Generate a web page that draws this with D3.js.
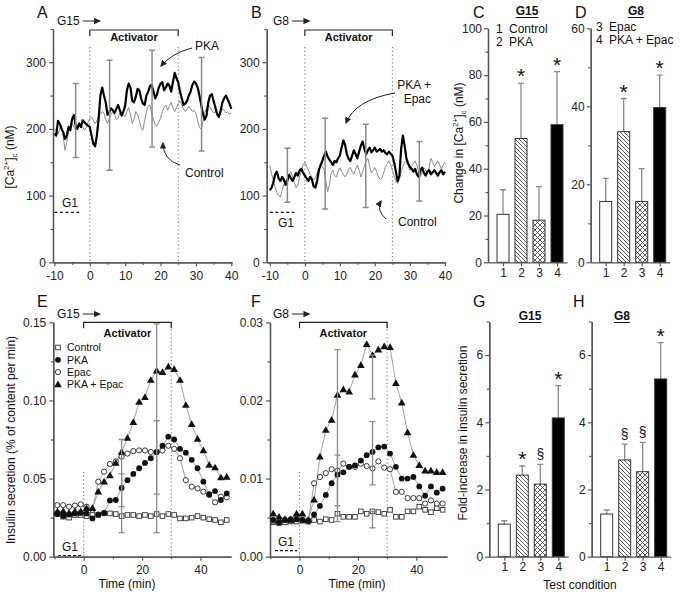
<!DOCTYPE html>
<html><head><meta charset="utf-8">
<script src="https://cdn.jsdelivr.net/npm/d3@7/dist/d3.min.js"></script>
<style>body{margin:0;background:#fff} svg{display:block}</style>
</head><body><svg id="c" width="693" height="595"></svg>
<script>
// ---------------- DATA ----------------
// [Ca2+]c traces, sampled every 0.5 min from -10 to 40 min
const traceStart = -10, traceStep = 0.5;
const caA_pka = [193,190,212,208,200,195,185,190,203,198,215,221,205,200,208,203,213,210,207,205,
 203,190,178,174,190,215,250,262,250,240,221,225,231,228,224,230,236,228,220,226,
 235,258,268,262,242,240,248,260,258,246,238,236,250,256,264,266,256,246,252,262,
 268,270,258,262,268,265,256,270,284,276,270,256,246,236,238,242,250,256,266,271,
 268,262,250,236,222,214,220,240,250,252,242,232,222,218,228,240,246,250,244,238,230];
const caA_ctrl = [200,198,192,200,206,188,168,180,196,200,207,203,198,205,210,206,203,198,202,210,
 216,218,213,208,212,220,222,226,224,214,208,215,222,226,222,214,216,224,226,220,
 218,226,232,222,208,214,226,222,212,202,198,212,226,234,236,224,214,206,204,210,
 216,226,232,236,228,234,240,232,226,232,238,242,236,230,226,230,234,230,226,228,
 224,212,202,200,210,224,232,236,232,228,224,226,222,218,224,230,228,224,226,222,224];
const caB_both = [108,112,120,132,136,126,122,128,124,116,122,131,126,122,128,134,130,138,140,134,
 130,126,122,128,124,114,112,122,138,146,152,160,166,158,154,150,146,152,150,156,
 160,172,183,176,162,155,152,160,168,162,156,166,175,181,170,162,168,172,165,168,
 172,166,168,170,166,168,164,162,166,163,160,150,136,122,130,170,190,175,156,148,
 143,140,136,140,132,128,138,142,134,130,136,138,132,135,138,134,130,135,138,132,136];
const caB_ctrl = [145,132,124,112,105,100,98,108,116,122,126,132,136,128,120,112,116,128,138,146,
 150,144,138,132,128,124,126,134,140,146,144,138,122,106,116,134,138,130,128,136,
 142,136,132,128,132,140,142,136,132,140,146,138,128,136,144,152,156,144,134,138,
 142,136,128,124,126,134,142,148,152,146,138,130,122,118,124,136,144,150,152,146,
 138,144,148,152,146,134,128,136,142,138,134,142,156,150,144,148,152,146,140,146,150];
// error bars on traces (time, low, high)
const errA_t = [-4, 5.6, 17.6, 31.6], errA_lo = [157, 138, 173, 167], errA_hi = [268, 303, 318, 307];
const errB_t = [-5, 5.8, 17.4, 32.7], errB_lo = [90, 80, 82, 92], errB_hi = [171, 216, 207, 181];

// bar charts (conditions 1-4)
const conditions = ["1", "2", "3", "4"];
const barC = [20.5, 52.9, 18, 58.8], barC_err = [31, 76.5, 32.3, 81.5], sigC = ["", "*", "", "*"];
const barD = [15.6, 33.5, 15.6, 39.7], barD_err = [21.5, 42, 24, 48], sigD = ["", "*", "", "*"];
const barG = [0.97, 2.43, 2.16, 4.13], barG_err = [1.07, 2.7, 2.75, 5.09], sigG = ["", "*", "§", "*"];
const barH = [1.27, 2.88, 2.53, 5.29], barH_err = [1.39, 3.35, 3.4, 6.37], sigH = ["", "§", "§", "*"];

// insulin secretion time courses (min)
const insTime = [-9,-7,-5,-3,-1,1,3,5,7,9,11,13,15,17,19,21,23,25,27,29,31,33,35,37,39,41,43,45,47,49];
const insE_ctrl = [0.0277,0.0256,0.025,0.0267,0.0267,0.026,0.0267,0.0267,0.0277,0.0277,0.0273,0.026,0.0267,0.0267,0.026,0.0267,0.026,0.0273,0.026,0.0273,0.0267,0.0245,0.0245,0.025,0.026,0.025,0.024,0.0235,0.022,0.0235];
const insE_pka = [0.0272,0.026,0.027,0.0277,0.028,0.0277,0.0245,0.027,0.028,0.036,0.0363,0.044,0.049,0.053,0.0566,0.060,0.063,0.067,0.071,0.0768,0.075,0.069,0.0666,0.062,0.0566,0.048,0.040,0.042,0.0363,0.0405];
const insE_epac = [0.033,0.033,0.032,0.0327,0.0335,0.032,0.030,0.048,0.0544,0.0593,0.061,0.064,0.066,0.0676,0.068,0.068,0.067,0.0668,0.068,0.071,0.069,0.063,0.049,0.0448,0.0437,0.0416,0.0395,0.0348,0.0384,0.038];
const insE_both = [0.0288,0.029,0.028,0.029,0.029,0.031,0.031,0.0416,0.048,0.052,0.060,0.067,0.076,0.086,0.099,0.102,0.113,0.119,0.118,0.1216,0.120,0.113,0.097,0.0847,0.0753,0.068,0.0587,0.057,0.0506,0.051];
const insF_ctrl = [0.0044,0.0043,0.0044,0.0045,0.0045,0.0046,0.0045,0.0047,0.0045,0.0048,0.0047,0.0055,0.0051,0.0051,0.0051,0.0058,0.0055,0.0058,0.0057,0.0055,0.006,0.0051,0.0051,0.0058,0.0058,0.0064,0.006,0.0057,0.0062,0.006];
const insF_pka = [0.0047,0.0044,0.0047,0.0048,0.0048,0.0047,0.0046,0.0054,0.0065,0.0079,0.0094,0.0105,0.0108,0.0115,0.0117,0.0123,0.013,0.0134,0.014,0.0141,0.0132,0.0115,0.010,0.010,0.0102,0.009,0.0078,0.009,0.0082,0.0087];
const insF_epac = [0.0045,0.0045,0.0047,0.0046,0.0048,0.0047,0.0045,0.0094,0.0102,0.0107,0.0112,0.011,0.0119,0.0115,0.0115,0.0119,0.0116,0.0113,0.0122,0.0114,0.0112,0.0083,0.0083,0.0075,0.0075,0.0075,0.0068,0.0072,0.0068,0.0068];
const insF_both = [0.0055,0.0051,0.0048,0.0047,0.0055,0.0055,0.0047,0.0073,0.0128,0.0162,0.0175,0.0207,0.0214,0.0211,0.0233,0.0245,0.0272,0.0258,0.0265,0.0269,0.0268,0.0222,0.0197,0.0159,0.013,0.0117,0.011,0.011,0.0108,0.0108];
const errE_t = [13, 13, 25, 25], errE_lo = [0.032, 0.0154, 0.040, 0.0154], errE_hi = [0.075, 0.053, 0.149, 0.087];
const errF_t = [13, 13, 25, 25, 25], errF_lo = [0.0065, 0.0045, 0.0202, 0.0092, 0.0037], errF_hi = [0.0265, 0.013, 0.0258, 0.0173, 0.0058];
const legendNames = ["Control", "PKA", "Epac", "PKA + Epac"];

// ---------------- DRAWING ----------------
const FONT = '"Liberation Sans", Arial, Helvetica, sans-serif';
const AX = '#555', GRAY = '#8a8a8a';
const svg = d3.select('#c').style('font-family', FONT);
const defs = svg.append('defs');
defs.append('marker').attr('id','arr').attr('viewBox','0 0 10 10').attr('refX',8).attr('refY',5)
  .attr('markerWidth',7).attr('markerHeight',7).attr('markerUnits','userSpaceOnUse').attr('orient','auto')
  .append('path').attr('d','M0,0.5 L10,5 L0,9.5 Z').attr('fill','#222');
const ph = defs.append('pattern').attr('id','hatch').attr('patternUnits','userSpaceOnUse').attr('width',4).attr('height',4);
ph.append('rect').attr('width',4).attr('height',4).attr('fill','#fff');
ph.append('path').attr('d','M-1,-1 L5,5 M-1,3 L1,5 M3,-1 L5,1').attr('stroke','#333').attr('stroke-width',0.8);
const pc = defs.append('pattern').attr('id','cross').attr('patternUnits','userSpaceOnUse').attr('width',5).attr('height',5);
pc.append('rect').attr('width',5).attr('height',5).attr('fill','#fff');
pc.append('path').attr('d','M0,0 L5,5 M5,0 L0,5').attr('stroke','#333').attr('stroke-width',0.8);

function txt(x, y, s, o = {}) {
  return svg.append('text').attr('x', x).attr('y', y).text(s)
    .attr('font-size', o.size || 12).attr('font-weight', o.bold ? 'bold' : null)
    .attr('text-anchor', o.anchor || 'start').attr('fill', o.fill || '#111');
}
function styleAxis(g) {
  g.selectAll('g').attr('font-family', FONT).attr('font-size', 12);
  g.selectAll('.domain').attr('stroke', AX).attr('stroke-width', 1.3);
  g.selectAll('.tick line').attr('stroke', AX).attr('stroke-width', 1.2);
  g.selectAll('.tick text').attr('fill', '#222').attr('font-size', 12);
}
function axes(x, y, o) {
  const xg = svg.append('g').attr('transform', `translate(0,${y.range()[0]})`);
  if (o.xMinor) xg.append('g').call(d3.axisBottom(x).tickValues(o.xMinor).tickSize(2.5).tickFormat('').tickSizeOuter(0));
  xg.append('g').call(d3.axisBottom(x).tickValues(o.xTicks).tickSize(4).tickPadding(o.xPad || 3)
    .tickSizeOuter(0).tickFormat(o.xFmt || (d => String(d))));
  styleAxis(xg);
  const yg = svg.append('g').attr('transform', `translate(${x.range()[0]},0)`);
  if (o.yMinor) yg.append('g').call(d3.axisLeft(y).tickValues(o.yMinor).tickSize(2.5).tickFormat('').tickSizeOuter(0));
  yg.append('g').call(d3.axisLeft(y).tickValues(o.yTicks).tickSize(4).tickPadding(o.yPad || 3)
    .tickSizeOuter(0).tickFormat(o.yFmt || (d => String(d))));
  styleAxis(yg);
}
function vline(x, y1, y2) {
  svg.append('line').attr('x1', x).attr('x2', x).attr('y1', y1).attr('y2', y2)
    .attr('stroke', '#777').attr('stroke-width', 1.1).attr('stroke-dasharray', '1.2,2.6');
}
function bracket(x1, x2, y, label, ty) {
  svg.append('path').attr('d', `M${x1},${y + 6}V${y}H${x2}V${y + 6}`).attr('fill', 'none').attr('stroke', '#222').attr('stroke-width', 1.2);
  txt((x1 + x2) / 2, ty, label, { bold: true, size: 11, anchor: 'middle' });
}
function glucose(x, y, label) {
  const t = txt(x, y, label, { size: 12 });
  const w = t.node().getComputedTextLength();
  svg.append('line').attr('x1', x + w + 3).attr('x2', x + w + 20).attr('y1', y - 4).attr('y2', y - 4)
    .attr('stroke', '#222').attr('stroke-width', 1).attr('marker-end', 'url(#arr)');
}
function curvedArrow(d) {
  svg.append('path').attr('d', d).attr('fill', 'none').attr('stroke', '#222').attr('stroke-width', 1).attr('marker-end', 'url(#arr)');
}
function errBars(x, y, ts, lo, hi, w) {
  ts.forEach((t, i) => {
    const px = x(t);
    svg.append('path').attr('d', `M${px},${y(lo[i])}V${y(hi[i])}M${px - 3},${y(lo[i])}H${px + 3}M${px - 3},${y(hi[i])}H${px + 3}`)
      .attr('stroke', GRAY).attr('stroke-width', w).attr('fill', 'none');
  });
}
function caTitle(x, y, prefix) {
  const t = svg.append('text').attr('transform', `translate(${x},${y}) rotate(-90)`).attr('text-anchor', 'middle')
    .attr('font-size', 12).attr('fill', '#111');
  t.append('tspan').text(prefix + '[Ca');
  t.append('tspan').attr('dy', -5).attr('font-size', 8).text('2+');
  t.append('tspan').attr('dy', 5).text(']');
  t.append('tspan').attr('dy', 3).attr('font-size', 8).text('c');
  t.append('tspan').attr('dy', -3).text(' (nM)');
}

// ---- Panels A & B: [Ca2+]c traces ----
function tracePanel(x, y, thick, thin, eT, eLo, eHi) {
  axes(x, y, { xTicks: [-10,0,10,20,30,40], xMinor: [-5,5,15,25,35], yTicks: [0,100,200,300], yMinor: [50,150,250,350], xPad: 5, yPad: 3 });
  vline(x(0), 47, y(0)); vline(x(25), 47, y(0));
  const line = d3.line().x((d, i) => x(traceStart + i * traceStep)).y(d => y(d));
  svg.append('path').datum(thin).attr('d', line).attr('fill', 'none').attr('stroke', GRAY).attr('stroke-width', 1);
  svg.append('path').datum(thick).attr('d', line).attr('fill', 'none').attr('stroke', '#000').attr('stroke-width', 2.2).attr('stroke-linejoin', 'round');
  errBars(x, y, eT, eLo, eHi, 1.5);
  bracket(x(0), x(25), 30, 'Activator', 41);
  svg.append('line').attr('x1', x(-10)).attr('x2', x(-3)).attr('y1', y(75)).attr('y2', y(75))
    .attr('stroke', '#111').attr('stroke-width', 1.2).attr('stroke-dasharray', '3,2.5');
}
const xA = d3.scaleLinear().domain([-10.4, 40.2]).range([53, 232]);
const yA = d3.scaleLinear().domain([0, 350]).range([262.3, 28.9]);
tracePanel(xA, yA, caA_pka, caA_ctrl, errA_t, errA_lo, errA_hi);
txt(37, 18, 'A', { size: 16 });
glucose(57, 25, 'G15');
txt(195, 50, 'PKA');
curvedArrow('M192,48 Q172,53 161,66');
txt(185, 177, 'Control');
curvedArrow('M180,165 Q163,160 163,143');
txt(62, 207, 'G1');
caTitle(14, 157, '');

const xB = d3.scaleLinear().domain([-10.9, 40.2]).range([266.7, 445.6]);
const yB = d3.scaleLinear().domain([0, 350]).range([262.3, 28.9]);
tracePanel(xB, yB, caB_both, caB_ctrl, errB_t, errB_lo, errB_hi);
txt(251, 18, 'B', { size: 16 });
glucose(273, 25, 'G8');
txt(431, 89, 'PKA +', { anchor: 'end' });
txt(431, 103, 'Epac', { anchor: 'end' });
curvedArrow('M395,93 Q355,100 346,123');
txt(398, 226, 'Control');
curvedArrow('M386,219 Q376,210 381,201');
txt(278, 227, 'G1');

// ---- Bar panels C, D, G, H ----
function barPanel(x0, y0, yTop, yMax, vals, errs, sig, yTicks, yMinor, xPad) {
  const x = d3.scaleLinear().domain([0.1667, 4.556]).range([x0, x0 + 79]);
  const y = d3.scaleLinear().domain([0, yMax]).range([y0, yTop]);
  const fills = ['#fff', 'url(#hatch)', 'url(#cross)', '#000'];
  const bw = 12;
  vals.forEach((v, i) => {
    const cx = x(i + 1);
    svg.append('path').attr('d', `M${cx},${y(v)}V${y(errs[i])}M${cx - 3},${y(errs[i])}H${cx + 3}`)
      .attr('stroke', GRAY).attr('stroke-width', 1.3).attr('fill', 'none');
    svg.append('rect').attr('x', cx - bw / 2).attr('y', y(v)).attr('width', bw).attr('height', y(0) - y(v))
      .attr('fill', fills[i]).attr('stroke', '#333').attr('stroke-width', 1);
    if (sig[i]) {
      const star = sig[i] === '*';
      txt(cx, y(errs[i]) - (star ? 0 : 5), sig[i], { size: star ? 21 : 14, anchor: 'middle' });
    }
  });
  axes(x, y, { xTicks: [1, 2, 3, 4], xFmt: (d) => conditions[d - 1], yTicks, yMinor, xPad, yPad: 2 });
}
barPanel(488, 262.3, 28.3, 100, barC, barC_err, sigC, [0,20,40,60,80,100], [10,30,50,70,90], 2);
barPanel(590.7, 262.3, 28.3, 60, barD, barD_err, sigD, [0,20,40,60], [10,30,50], 2);
barPanel(489.3, 556.7, 321.5, 7, barG, barG_err, sigG, [0,2,4,6], [1,3,5,7], 2);
barPanel(591.7, 556.7, 321.5, 7, barH, barH_err, sigH, [0,2,4,6], [1,3,5,7], 2);

function uTitle(cx, y, s) {
  const t = txt(cx, y, s, { bold: true, size: 12, anchor: 'middle' });
  const w = t.node().getComputedTextLength();
  svg.append('line').attr('x1', cx - w / 2).attr('x2', cx + w / 2).attr('y1', y + 2.5).attr('y2', y + 2.5).attr('stroke', '#111').attr('stroke-width', 1);
}
txt(473, 18, 'C', { size: 16 }); uTitle(527, 15, 'G15');
txt(496, 33, '1'); txt(509, 33, 'Control'); txt(496, 46, '2'); txt(509, 46, 'PKA');
caTitle(463, 143, 'Change in ');
txt(575, 18, 'D', { size: 16 }); uTitle(636, 15, 'G8');
txt(596, 31, '3'); txt(609, 31, 'Epac'); txt(596, 44, '4'); txt(609, 44, 'PKA + Epac');
txt(473, 307, 'G', { size: 16 }); uTitle(530, 320, 'G15');
txt(573, 307, 'H', { size: 16 }); uTitle(622, 320, 'G8');
svg.append('text').attr('transform', 'translate(467,433) rotate(-90)').attr('text-anchor', 'middle')
  .attr('font-size', 12).attr('fill', '#111').text('Fold-increase in insulin secretion');
txt(580, 589, 'Test condition', { anchor: 'middle' });

// ---- Panels E & F: insulin secretion ----
const sym = {
  sq: (g, px, py) => g.append('rect').attr('x', px - 2.3).attr('y', py - 2.3).attr('width', 4.6).attr('height', 4.6).attr('fill', '#fff').attr('stroke', '#333').attr('stroke-width', 0.9),
  open: (g, px, py) => g.append('circle').attr('cx', px).attr('cy', py).attr('r', 2.6).attr('fill', '#fff').attr('stroke', '#222').attr('stroke-width', 0.9),
  fill: (g, px, py) => g.append('circle').attr('cx', px).attr('cy', py).attr('r', 2.9).attr('fill', '#111'),
  tri: (g, px, py) => g.append('path').attr('transform', `translate(${px},${py + 0.5})`).attr('d', d3.symbol(d3.symbolTriangle, 26)()).attr('fill', '#111')
};
const symOrder = ['sq', 'fill', 'open', 'tri'];
function insPanel(x, y, series, eT, eLo, eHi, yTicks, yMinor) {
  axes(x, y, { xTicks: [0, 20, 40], xMinor: [-10, 10, 30], yTicks, yMinor, xPad: 5, yPad: 3, yFmt: d3.format('.2f') });
  const line = d3.line().x((d, i) => x(insTime[i])).y(d => y(d));
  const g = svg.append('g');
  series.forEach(s => g.append('path').datum(s).attr('d', line).attr('fill', 'none').attr('stroke', '#888').attr('stroke-width', 0.8));
  errBars(x, y, eT, eLo, eHi, 1.3);
  [0, 2, 1, 3].forEach(k => series[k].forEach((v, i) => sym[symOrder[k]](g, x(insTime[i]), y(v))));
}
const xE = d3.scaleLinear().domain([-10.4, 50.5]).range([53.3, 231.1]);
const yE = d3.scaleLinear().domain([0, 0.15]).range([556.7, 322.3]);
vline(xE(0), 472, 556.7); vline(xE(30), 322, 556.7);
insPanel(xE, yE, [insE_ctrl, insE_pka, insE_epac, insE_both], errE_t, errE_lo, errE_hi, [0, 0.05, 0.10, 0.15], [0.025, 0.075, 0.125]);
bracket(xE(0), xE(30), 322.3, 'Activator', 337);
txt(37, 307, 'E', { size: 16 });
glucose(57, 318, 'G15');
legendNames.forEach((n, i) => {
  sym[symOrder[i]](svg, 58, 347.5 + i * 12.3);
  txt(67, 351.3 + i * 12.3, n, { size: 10.5 });
});
svg.append('line').attr('x1', 58).attr('x2', 82).attr('y1', 555.5).attr('y2', 555.5).attr('stroke', '#111').attr('stroke-width', 1.2).attr('stroke-dasharray', '3,2');
txt(62, 551, 'G1');
svg.append('text').attr('transform', 'translate(15,440) rotate(-90)').attr('text-anchor', 'middle')
  .attr('font-size', 12).attr('fill', '#111').text('Insulin secretion (% of content per min)');
txt(127, 588, 'Time (min)', { anchor: 'middle' });

const xF = d3.scaleLinear().domain([-10.1, 50.5]).range([270, 447]);
const yF = d3.scaleLinear().domain([0, 0.03]).range([556.7, 322.3]);
vline(xF(0), 472, 556.7); vline(xF(30), 322, 556.7);
insPanel(xF, yF, [insF_ctrl, insF_pka, insF_epac, insF_both], errF_t, errF_lo, errF_hi, [0, 0.01, 0.02, 0.03], [0.005, 0.015, 0.025]);
bracket(xF(0), xF(30), 322.3, 'Activator', 337);
txt(251, 307, 'F', { size: 16 });
glucose(273, 318, 'G8');
svg.append('line').attr('x1', 275).attr('x2', 297).attr('y1', yF(0.00077)).attr('y2', yF(0.00077)).attr('stroke', '#111').attr('stroke-width', 1.2).attr('stroke-dasharray', '3,2');
txt(278, 546, 'G1');
txt(357, 588, 'Time (min)', { anchor: 'middle' });
</script></body></html>
